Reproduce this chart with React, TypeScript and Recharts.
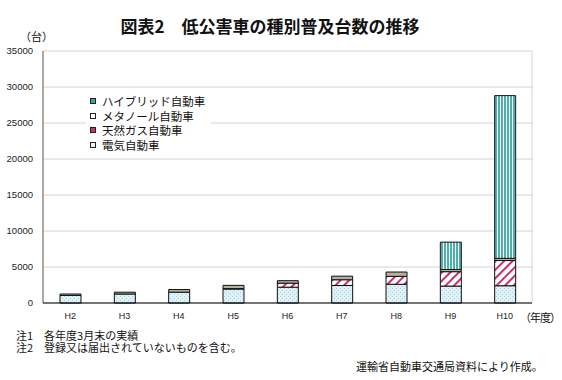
import React from 'react';
import { BarChart, Bar, XAxis, YAxis, CartesianGrid, Legend } from 'recharts';

const years = ['H2', 'H3', 'H4', 'H5', 'H6', 'H7', 'H8', 'H9', 'H10'];
const electric = [1050, 1250, 1500, 1950, 2200, 2430, 2600, 2350, 2400];
const cng = [0, 0, 0, 50, 550, 800, 1100, 2000, 3500];
const methanol = [200, 250, 370, 450, 350, 500, 600, 300, 300];
const hybrid = [0, 0, 0, 0, 0, 0, 0, 3800, 22600];
const yTicks = [0, 5000, 10000, 15000, 20000, 25000, 30000, 35000];

const seriesNames = {
  electric: '電気自動車',
  cng: '天然ガス自動車',
  methanol: 'メタノール自動車',
  hybrid: 'ハイブリッド自動車',
};

const data = years.map((year, i) => ({
  year,
  electric: electric[i],
  cng: cng[i],
  methanol: methanol[i],
  hybrid: hybrid[i],
}));

const JP = '"Noto Sans CJK JP", "Noto Sans", sans-serif';
const LATIN = '"Liberation Sans", Arial, sans-serif';

// legend order is the reverse of the stack, like the original
const legendItems = [
  { key: 'hybrid', color: '#3aa6a6' },
  { key: 'methanol', color: '#ffffff' },
  { key: 'cng', color: '#c8306e' },
  { key: 'electric', color: '#e6f4f8' },
];

const renderLegend = () => (
  <div style={{ background: '#fff', padding: '2px 6px 2px 4px' }}>
    {legendItems.map((item) => (
      <div
        key={item.key}
        style={{ display: 'flex', alignItems: 'center', height: 14.5, fontFamily: JP, fontSize: 11.5, color: '#111' }}
      >
        <span
          style={{
            display: 'inline-block',
            width: 4,
            height: 4,
            border: '1px solid #222',
            background: item.color,
            marginRight: 6,
          }}
        />
        {seriesNames[item.key as keyof typeof seriesNames]}
      </div>
    ))}
  </div>
);

const Patterns = () => (
  <svg width={0} height={0} style={{ position: 'absolute' }}>
    <defs>
      <pattern id="patElectric" width={4} height={4} patternUnits="userSpaceOnUse">
        <rect width={4} height={4} fill="#def2f7" />
        <rect x={0} y={0} width={1} height={1} fill="#a6d2de" />
        <rect x={2} y={2} width={1} height={1} fill="#a6d2de" />
      </pattern>
      <pattern id="patCng" width={6} height={6} patternUnits="userSpaceOnUse" patternTransform="rotate(45)">
        <rect width={6} height={6} fill="#fff" />
        <rect x={0} y={0} width={2} height={6} fill="#c8306e" />
      </pattern>
      <pattern id="patHybrid" width={3} height={3} patternUnits="userSpaceOnUse">
        <rect width={3} height={3} fill="#fff" />
        <rect x={0} y={0} width={2} height={3} fill="#4cb0b0" />
      </pattern>
    </defs>
  </svg>
);

export default function App() {
  return (
    <div style={{ position: 'absolute', left: 0, top: 0, width: 562, height: 380, background: '#fff', overflow: 'hidden' }}>
      <Patterns />
      <div
        style={{
          position: 'absolute',
          left: 0,
          width: 540,
          top: 16,
          textAlign: 'center',
          fontFamily: JP,
          fontWeight: 700,
          fontSize: 17,
          lineHeight: '20px',
          color: '#111',
        }}
      >
        図表2　低公害車の種別普及台数の推移
      </div>
      <div style={{ position: 'absolute', left: 20, top: 28, fontFamily: JP, fontSize: 11, color: '#111' }}>（台）</div>

      <BarChart
        width={562}
        height={380}
        data={data}
        margin={{ top: 51, right: 30, bottom: 47, left: 8 }}
        barSize={21}
      >
        <CartesianGrid
          stroke="#d4d4d4"
          vertical={true}
          verticalCoordinatesGenerator={({ offset }: any) => [offset.left + offset.width]}
        />
        <XAxis
          dataKey="year"
          height={30}
          tickLine={false}
          axisLine={{ stroke: '#000' }}
          tickMargin={4}
          tick={{ fontSize: 9, fill: '#222', fontFamily: LATIN }}
        />
        <YAxis
          domain={[0, 35000]}
          ticks={yTicks}
          width={35}
          tickLine={false}
          axisLine={{ stroke: '#555' }}
          tickMargin={4}
          interval={0}
          tick={{ fontSize: 9.5, fill: '#222', fontFamily: LATIN }}
        />
        <Legend
          layout="vertical"
          align="center"
          verticalAlign="middle"
          content={renderLegend}
          wrapperStyle={{ left: 86, top: 92, width: 'auto' }}
        />
        <Bar dataKey="electric" stackId="a" name={seriesNames.electric} fill="url(#patElectric)" stroke="#111" strokeWidth={1} isAnimationActive={false} />
        <Bar dataKey="cng" stackId="a" name={seriesNames.cng} fill="url(#patCng)" stroke="#111" strokeWidth={1} isAnimationActive={false} />
        <Bar dataKey="methanol" stackId="a" name={seriesNames.methanol} fill="#b4b09a" stroke="#111" strokeWidth={1} isAnimationActive={false} />
        <Bar dataKey="hybrid" stackId="a" name={seriesNames.hybrid} fill="url(#patHybrid)" stroke="#111" strokeWidth={1} isAnimationActive={false} />
      </BarChart>

      <div style={{ position: 'absolute', left: 520, top: 309, fontFamily: JP, fontSize: 11, letterSpacing: -1, color: '#111' }}>（年度）</div>
      <div style={{ position: 'absolute', left: 16, top: 329, fontFamily: JP, fontSize: 11, lineHeight: '12px', color: '#111' }}>
        注1　各年度3月末の実績
        <br />
        注2　登録又は届出されていないものを含む。
      </div>
      <div style={{ position: 'absolute', left: 356, top: 358, fontFamily: JP, fontSize: 11, color: '#111' }}>
        運輸省自動車交通局資料により作成。
      </div>
    </div>
  );
}
